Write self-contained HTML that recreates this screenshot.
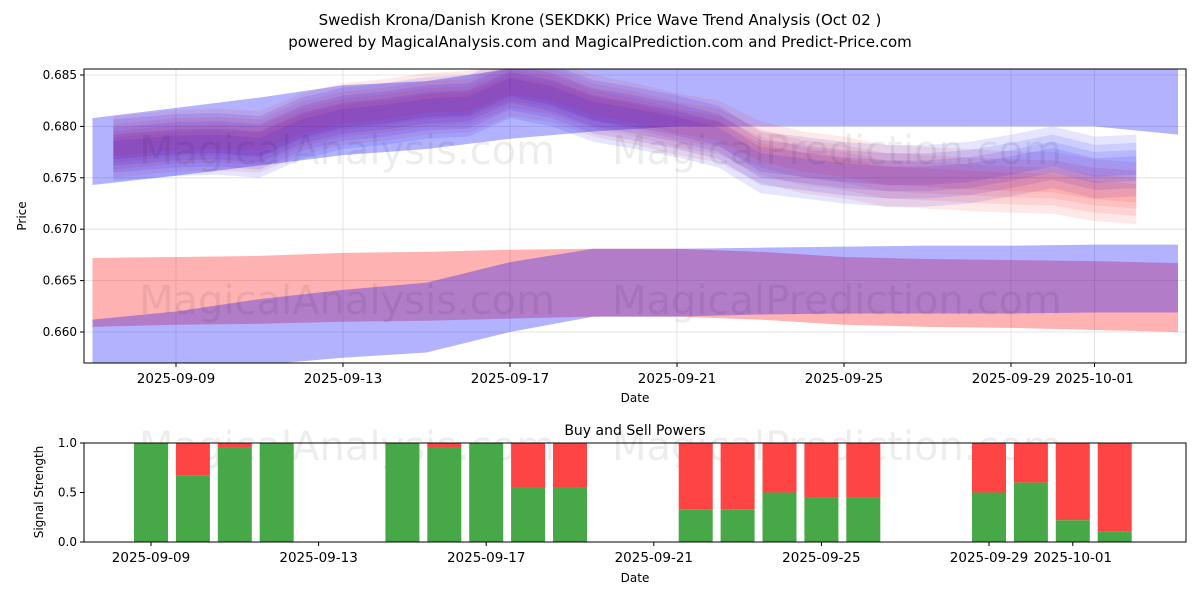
<!DOCTYPE html>
<html><head><meta charset="utf-8"><style>
body{margin:0;background:#fff;font-family:"DejaVu Sans","Liberation Sans",sans-serif}
svg text{font-family:"DejaVu Sans","Liberation Sans",sans-serif}
</style></head><body>
<svg id="c" width="1200" height="600" viewBox="0 0 1200 600">
<defs>
<clipPath id="cp1"><rect x="84" y="69" width="1102" height="294"/></clipPath>
</defs>
<text x="600" y="25" text-anchor="middle" font-size="15">Swedish Krona/Danish Krone (SEKDKK) Price Wave Trend Analysis (Oct 02 )</text>
<text x="600" y="47" text-anchor="middle" font-size="15">powered by MagicalAnalysis.com and MagicalPrediction.com and Predict-Price.com</text>
<g id="topg"></g>
<g id="botg"></g>
</svg>
<script>
// ---- data ----
const tickDays = [0,4,8,12,16,20,22];
const tickLabels = ["2025-09-09","2025-09-13","2025-09-17","2025-09-21","2025-09-25","2025-09-29","2025-10-01"];
const priceTicks = [0.660,0.665,0.670,0.675,0.680,0.685];
const bandDays = [-2,0,2,4,6,8,10,12,14,16,18,20,22,24];
const upperTop = [0.6808,0.6818,0.6828,0.6840,0.6844,0.6856,0.6856,0.6856,0.6856,0.6856,0.6856,0.6856,0.6856,0.6856];
const upperBot = [0.6743,0.6752,0.6762,0.6772,0.6778,0.6788,0.6795,0.6800,0.6800,0.6800,0.6800,0.6800,0.6800,0.6792];
const lowRedTop = [0.6672,0.6673,0.6674,0.6677,0.6678,0.6680,0.6681,0.6681,0.6678,0.6673,0.6671,0.6670,0.6669,0.6667];
const lowRedBot = [0.6605,0.6607,0.6608,0.6610,0.6611,0.6613,0.6615,0.6615,0.6612,0.6607,0.6605,0.6604,0.6602,0.6600];
const lowBlueTop = [0.6612,0.6620,0.6632,0.6641,0.6648,0.6668,0.6681,0.6681,0.6682,0.6683,0.6684,0.6684,0.6685,0.6685];
const lowBlueBot = [0.6560,0.6565,0.6568,0.6575,0.6580,0.6600,0.6615,0.6615,0.6617,0.6618,0.6618,0.6618,0.6619,0.6619];
const waveDays = [-1.5,0,1,2,3,4,5,6,7,8,9,10,11,12,13,14,15,16,17,18,19,20,21,22,23];
const blueWave = [0.6777,0.6782,0.6783,0.6780,0.6798,0.6808,0.6812,0.6818,0.6820,0.6838,0.6830,0.6815,0.6808,0.6800,0.6790,0.6765,0.6760,0.6755,0.6752,0.6752,0.6755,0.6762,0.6770,0.6760,0.6762];
const redWave = [0.6780,0.6786,0.6787,0.6785,0.6802,0.6812,0.6816,0.6822,0.6824,0.6840,0.6834,0.6820,0.6812,0.6802,0.6795,0.6775,0.6765,0.6760,0.6752,0.6750,0.6748,0.6746,0.6745,0.6738,0.6735];
const waveWidths = [0.0030,0.0022,0.0015,0.0009];
const sigDays = [0,1,2,3,6,7,8,9,10,13,14,15,16,17,20,21,22,23];
const buyVals = [1.0,0.67,0.95,1.0,1.0,0.95,1.0,0.55,0.55,0.33,0.33,0.5,0.45,0.45,0.5,0.6,0.22,0.11];

const NS="http://www.w3.org/2000/svg";
function mk(tag,attrs,parent){const e=document.createElementNS(NS,tag);for(const k in attrs)e.setAttribute(k,attrs[k]);parent.appendChild(e);return e;}
const topG=document.getElementById('topg'), botG=document.getElementById('botg');
const X=d=>176+d*41.75;
const Y=v=>332-(v-0.660)/0.005*51.4;
const XB=d=>151+d*41.9;
const YB=v=>542-v*99;

tickDays.forEach((d,i)=>{
  const l=mk('line',{x1:X(d),x2:X(d),y1:69,y2:363,stroke:'#ddd','stroke-width':0.8},topG);
  
  const t=mk('line',{x1:X(d),x2:X(d),y1:363,y2:367,stroke:'#000'},topG);
  
  const tx=mk('text',{x:X(d),y:383,'text-anchor':'middle','font-size':13.5},topG);tx.textContent=tickLabels[i];
  
});
priceTicks.forEach(v=>{
  const l=mk('line',{x1:84,x2:1186,y1:Y(v),y2:Y(v),stroke:'#ddd','stroke-width':0.8},topG);
  
  const t=mk('line',{x1:80,x2:84,y1:Y(v),y2:Y(v),stroke:'#000'},topG);
  
  const tx=mk('text',{x:77,y:Y(v)+4,'text-anchor':'end','font-size':12},topG);tx.textContent=v.toFixed(3);
  
});
const g=mk('g',{'clip-path':'url(#cp1)'},topG);

function band(days,hi,lo,color,op,name){
  let p=days.map((d,i)=>X(d)+','+Y(hi[i])).join(' ')+' '+days.slice().reverse().map((d,j)=>X(d)+','+Y(lo[days.length-1-j])).join(' ');
  const e=mk('polygon',{points:p,fill:color,'fill-opacity':op},g);
  
}
band(bandDays,upperTop,upperBot,'#0000ff',0.3,'upper-blue-band');
band(bandDays,lowRedTop,lowRedBot,'#ff0000',0.3,'lower-red-band');
band(bandDays,lowBlueTop,lowBlueBot,'#0000ff',0.3,'lower-blue-band');
waveWidths.forEach(w=>{
  band(waveDays,redWave.map(v=>v+w),redWave.map(v=>v-w),'#ff0000',0.09,'red-wave-band');
  band(waveDays,blueWave.map(v=>v+w),blueWave.map(v=>v-w),'#0000ff',0.10,'blue-wave-band');
});
[['MagicalAnalysis.com',347,150],['MagicalPrediction.com',837,150],['MagicalAnalysis.com',347,300],['MagicalPrediction.com',837,300]].forEach(a=>{
  const t=mk('text',{x:a[1],y:a[2]+14,'text-anchor':'middle','font-size':40,fill:'#000','fill-opacity':0.07},topG);t.textContent=a[0];
  
});
const f=mk('rect',{x:84,y:69,width:1102,height:294,fill:'none',stroke:'#000','stroke-width':1},topG);

let t1=mk('text',{x:635,y:402,'text-anchor':'middle','font-size':12},topG);t1.textContent='Date';

let t2=mk('text',{x:26,y:216,'text-anchor':'middle','font-size':12,transform:'rotate(-90 26 216)'},topG);t2.textContent='Price';


let bt=mk('text',{x:635,y:435,'text-anchor':'middle','font-size':14},botG);bt.textContent='Buy and Sell Powers';

[['MagicalAnalysis.com',347],['MagicalPrediction.com',837]].forEach(a=>{
  const t=mk('text',{x:a[1],y:460,'text-anchor':'middle','font-size':40,fill:'#000','fill-opacity':0.07},botG);t.textContent=a[0];
  
});
sigDays.forEach((d,i)=>{
  const b=buyVals[i];
  const r=mk('rect',{x:XB(d)-17,y:YB(1),width:34,height:YB(b)-YB(1),fill:'#ff4444'},botG);
  
  const gr=mk('rect',{x:XB(d)-17,y:YB(b),width:34,height:YB(0)-YB(b),fill:'#47a847'},botG);
  
});
[0,0.5,1].forEach(v=>{
  const t=mk('line',{x1:80,x2:84,y1:YB(v),y2:YB(v),stroke:'#000'},botG);
  
  const tx=mk('text',{x:77,y:YB(v)+4,'text-anchor':'end','font-size':12},botG);tx.textContent=v.toFixed(1);
  
});
tickDays.forEach((d,i)=>{
  const t=mk('line',{x1:XB(d),x2:XB(d),y1:542,y2:546,stroke:'#000'},botG);
  
  const tx=mk('text',{x:XB(d),y:562,'text-anchor':'middle','font-size':13.5},botG);tx.textContent=tickLabels[i];
  
});
const f2=mk('rect',{x:84,y:443,width:1102,height:99,fill:'none',stroke:'#000','stroke-width':1},botG);

let t3=mk('text',{x:635,y:582,'text-anchor':'middle','font-size':12},botG);t3.textContent='Date';

let t4=mk('text',{x:43,y:492,'text-anchor':'middle','font-size':12,transform:'rotate(-90 43 492)'},botG);t4.textContent='Signal Strength';

</script>
</body></html>
